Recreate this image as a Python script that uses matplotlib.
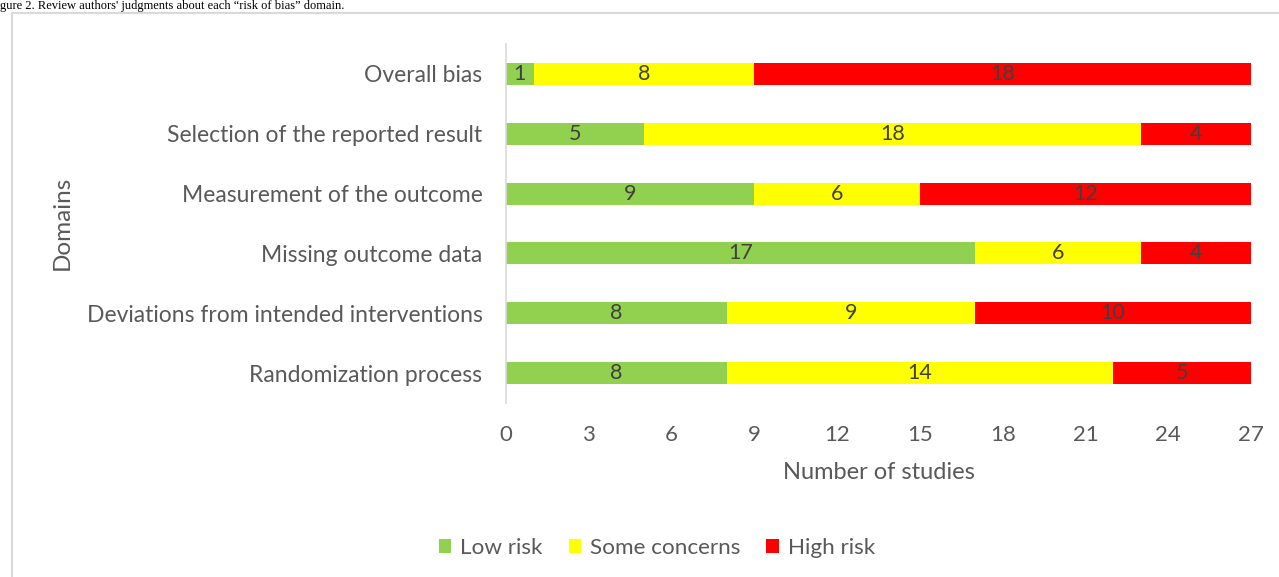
import matplotlib
matplotlib.use("Agg")
import matplotlib.pyplot as plt
from matplotlib.patches import Rectangle
import numpy as np

domains = ["Randomization process", "Deviations from intended interventions",
           "Missing outcome data", "Measurement of the outcome",
           "Selection of the reported result", "Overall bias"]
low_risk = [8, 8, 17, 9, 5, 1]
some_concerns = [14, 9, 6, 6, 18, 8]
high_risk = [5, 10, 4, 12, 4, 18]
series_names = ["Low risk", "Some concerns", "High risk"]
colors = ["#92d050", "#ffff00", "#ff0000"]
xticks = [0, 3, 6, 9, 12, 15, 18, 21, 24, 27]

FONT = "Lato"
TXT = "#595959"

fig = plt.figure(figsize=(12.79, 5.77), dpi=100)
ax = fig.add_axes([506/1279, 1-403/577, (1251-506)/1279, (403-44)/577])

y = np.arange(len(domains))
left = np.zeros(len(domains))
handles = []
for vals, name, c in zip([low_risk, some_concerns, high_risk], series_names, colors):
    vals = np.array(vals)
    b = ax.barh(y, vals, left=left, height=0.37, color=c, label=name)
    handles.append(b)
    for yi, l, v in zip(y, left, vals):
        ax.text(l + v/2, yi, str(v), ha="center", va="center", fontsize=15.5,
                color="#404040", family=FONT)
    left = left + vals

ax.set_xlim(0, 27)
ax.set_ylim(-0.5, len(domains)-0.5)
ax.set_xticks(xticks)
ax.set_xticklabels([str(t) for t in xticks], family=FONT, fontsize=16, color=TXT)
ax.set_yticks(y)
ax.set_yticklabels(domains, family=FONT, fontsize=16.5, color=TXT)
ax.tick_params(axis="both", length=0)
ax.tick_params(axis="x", pad=16)
ax.tick_params(axis="y", pad=17)
for s in ["top", "right", "bottom"]:
    ax.spines[s].set_visible(False)
ax.spines["left"].set_color("#d9d9d9")
ax.spines["left"].set_linewidth(1.2)
ax.set_xlabel("Number of studies", family=FONT, fontsize=17, color=TXT, labelpad=12)
fig.text(62/1279, 1-223/577, "Domains", rotation=90, ha="center", va="center",
         family=FONT, fontsize=17.5, color=TXT)

leg = fig.legend(handles=handles, labels=series_names, loc="center",
                 bbox_to_anchor=(657/1279, 1-548/577), ncol=3, frameon=False,
                 prop={"family": FONT, "size": 16.2}, handlelength=0.55, handleheight=0.55,
                 columnspacing=1.15, handletextpad=0.4)
for t in leg.get_texts():
    t.set_color(TXT)

# border box
fig.patches.append(Rectangle((12/1279, -0.1), 1.2, 1-13/577+0.1, transform=fig.transFigure,
                             fill=False, edgecolor="#d9d9d9", linewidth=1.5))
fig.text(0.0, 1.0, "gure 2. Review authors' judgments about each \u201crisk of bias\u201d domain.",
         ha="left", va="top", family="Liberation Serif", fontsize=9, color="black")

fig.savefig("out.png", dpi=100)
